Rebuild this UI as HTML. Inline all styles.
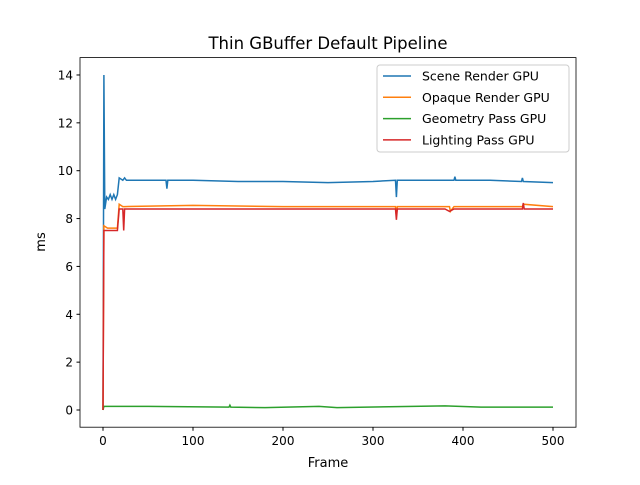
<!DOCTYPE html>
<html><head><meta charset="utf-8"><style>
body{margin:0;background:#fff}
svg text{font-family:"DejaVu Sans","Liberation Sans",sans-serif;fill:#000}
</style></head><body>
<svg id="chart" width="640" height="480" viewBox="0 0 640 480" xmlns="http://www.w3.org/2000/svg">
<rect width="640" height="480" fill="#fff"/>
<text x="328" y="49" font-size="16.5" text-anchor="middle">Thin GBuffer Default Pipeline</text>
<g id="plot"></g>
<rect x="80" y="57.6" width="496" height="369.6" fill="none" stroke="#000" stroke-width="0.8"/>
<g id="xt"></g><g id="yt"></g>
<text x="328" y="467" font-size="13" text-anchor="middle">Frame</text>
<text x="0" y="0" font-size="13" text-anchor="middle" transform="translate(45,242) rotate(-90)">ms</text>
<g id="legend">
<rect x="377" y="65" width="192" height="87" rx="3" fill="#fff" fill-opacity="0.8" stroke="#ccc"/>
</g>
</svg>
<script>
const seriesNames=["Scene Render GPU","Opaque Render GPU","Geometry Pass GPU","Lighting Pass GPU"];
const colors=["#1f77b4","#ff7f0e","#2ca02c","#d62728"];
const xTicks=[0,100,200,300,400,500];
const yTicks=[0,2,4,6,8,10,12,14];
const sceneX=[0,1,2,4,6,8,10,12,14,16,18,22,24,26,70,71,72,100,150,200,250,300,325,326,327,390,391,392,430,465,466,467,500];
const sceneY=[0,14,8.4,8.9,8.8,9.0,8.8,9.0,8.8,9.0,9.7,9.6,9.7,9.6,9.6,9.25,9.6,9.6,9.55,9.55,9.5,9.55,9.6,8.9,9.6,9.6,9.75,9.6,9.6,9.55,9.7,9.55,9.5];
const opaqueX=[0,1,5,16,18,22,24,100,200,300,325,326,327,385,386,390,466,467,500];
const opaqueY=[0,7.7,7.6,7.6,8.6,8.5,8.5,8.55,8.5,8.5,8.5,8.1,8.5,8.5,8.3,8.5,8.5,8.6,8.5];
const geomX=[0,1,50,140,141,142,180,240,260,380,420,500];
const geomY=[0,0.15,0.15,0.12,0.2,0.12,0.1,0.15,0.1,0.17,0.12,0.12];
const lightX=[0,1,16,18,22,23,24,100,300,325,326,327,380,385,390,466,467,468,500];
const lightY=[0,7.5,7.5,8.4,8.4,7.5,8.4,8.4,8.4,8.4,7.95,8.4,8.4,8.3,8.4,8.4,8.65,8.4,8.4];
const NS="http://www.w3.org/2000/svg";
const xs=v=>103+v*0.9;
const ys=v=>410-v*23.93;
const plot=document.getElementById('plot');
const data=[[sceneX,sceneY],[opaqueX,opaqueY],[geomX,geomY],[lightX,lightY]];
const keys=["scene","opaque","geometry","lighting"];
data.forEach((d,i)=>{
 const p=document.createElementNS(NS,'polyline');
 p.setAttribute('points',d[0].map((x,j)=>xs(x)+','+ys(d[1][j])).join(' '));
 p.setAttribute('fill','none');p.setAttribute('stroke',colors[i]);p.setAttribute('stroke-width','1.5');
 
 
 plot.appendChild(p);
});
const xt=document.getElementById('xt');
xTicks.forEach(t=>{
 const l=document.createElementNS(NS,'line');
 l.setAttribute('x1',xs(t));l.setAttribute('x2',xs(t));l.setAttribute('y1',427.2);l.setAttribute('y2',430.7);l.setAttribute('stroke','#000');
 
 
 xt.appendChild(l);
 const tx=document.createElementNS(NS,'text');
 tx.setAttribute('x',xs(t));tx.setAttribute('y',445);tx.setAttribute('font-size','12');tx.setAttribute('text-anchor','middle');
 tx.textContent=t;
 
 
 xt.appendChild(tx);
});
const yt=document.getElementById('yt');
yTicks.forEach(t=>{
 const l=document.createElementNS(NS,'line');
 l.setAttribute('x1',76.5);l.setAttribute('x2',80);l.setAttribute('y1',ys(t));l.setAttribute('y2',ys(t));l.setAttribute('stroke','#000');
 
 
 yt.appendChild(l);
 const tx=document.createElementNS(NS,'text');
 tx.setAttribute('x',73);tx.setAttribute('y',ys(t)+4.5);tx.setAttribute('font-size','12');tx.setAttribute('text-anchor','end');
 tx.textContent=t;
 
 
 yt.appendChild(tx);
});
const lg=document.getElementById('legend');
seriesNames.forEach((n,i)=>{
 const y=76+i*21.3;
 const l=document.createElementNS(NS,'line');
 l.setAttribute('x1',383);l.setAttribute('x2',411);l.setAttribute('y1',y);l.setAttribute('y2',y);l.setAttribute('stroke',colors[i]);l.setAttribute('stroke-width','1.5');
 
 
 lg.appendChild(l);
 const tx=document.createElementNS(NS,'text');
 tx.setAttribute('x',422);tx.setAttribute('y',y+4.5);tx.setAttribute('font-size','12.5');
 tx.textContent=n;
 
 
 lg.appendChild(tx);
});
</script>
</body></html>
